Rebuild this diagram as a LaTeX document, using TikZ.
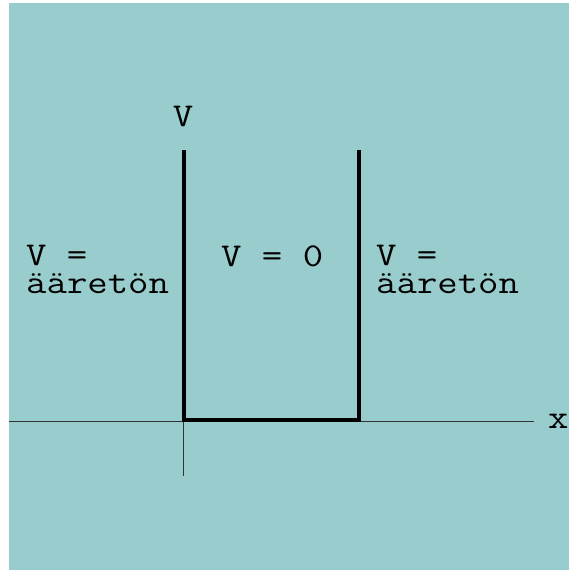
\documentclass[tikz,border=0pt]{standalone}
\usepackage{fontspec}
\newfontfamily\courlike{Latin Modern Mono}[FakeStretch=1.19]
\definecolor{bgteal}{RGB}{153,204,204}
\begin{document}
\begin{tikzpicture}[x=1pt,y=-1pt,
  lbl/.style={inner sep=0pt, font=\courlike\fontsize{33.3}{27.5}\selectfont, align=left},
  axisline/.style={draw=black!80, line width=0.9pt},
  wall/.style={draw=black, line width=4.4pt, line cap=butt, line join=miter}]
\useasboundingbox (0,0) rectangle (569,570);
\fill[bgteal] (9,3) rectangle (569,570);
% axes
\coordinate (xl) at (9,421);
\coordinate (xr) at (534,421);
\coordinate (o) at (183,421);
\coordinate (yb) at (183,476);
\draw[axisline] (xl) -- (xr);
\draw[axisline] (o) -- (yb);
% well
\coordinate (lt) at (184,150);
\coordinate (lb) at (184,420);
\coordinate (rb) at (359,420);
\coordinate (rt) at (359,150);
\draw[wall] (lt) -- (lb) -- (rb) -- (rt);
% labels
\node[lbl, anchor=base] (vlab) at (183,126) {V};
\node[lbl, anchor=base west] (xlab) at (548,428) {x};
\node[lbl, anchor=base west] (left) at (26,293) {V =\\ääretön};
\node[lbl, anchor=base west] (mid) at (221,266) {V = 0};
\node[lbl, anchor=base west] (right) at (376,293) {V =\\ääretön};
\end{tikzpicture}
\end{document}
